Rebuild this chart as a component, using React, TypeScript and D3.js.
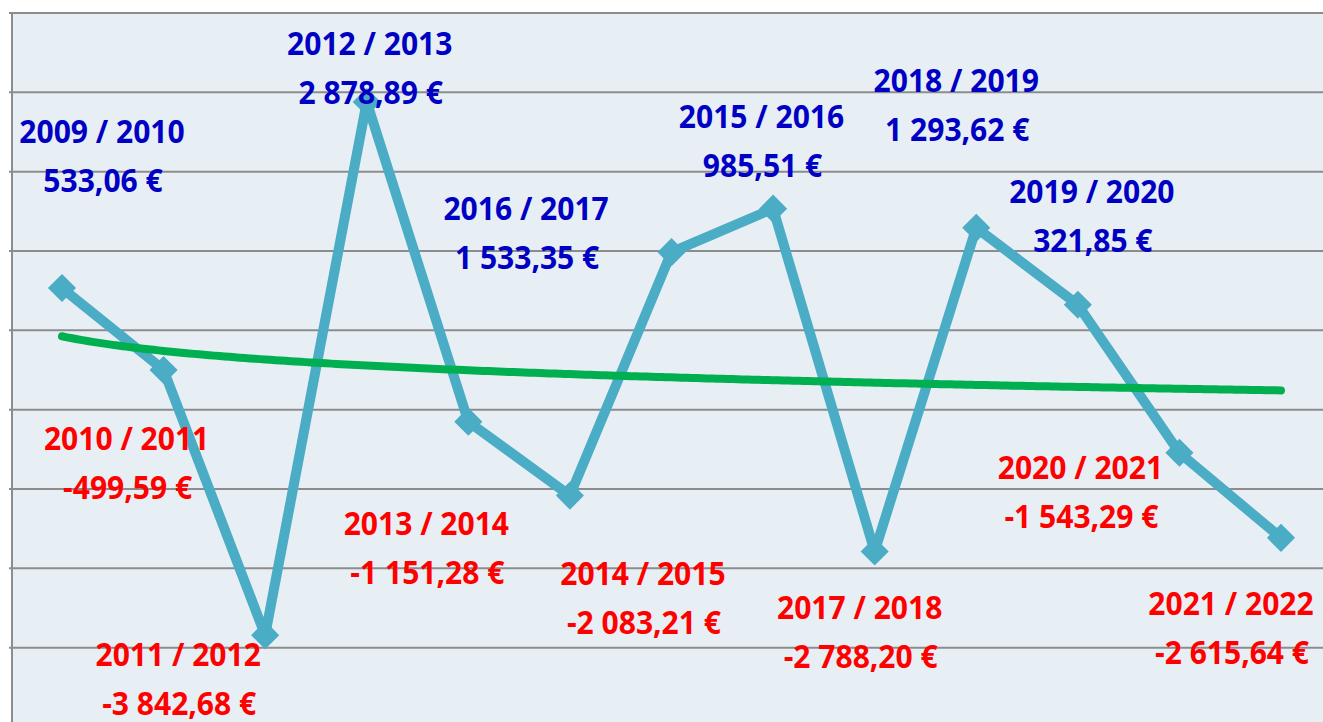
import React from 'react';
import * as d3 from 'd3';

const seasons = [
  '2009 / 2010', '2010 / 2011', '2011 / 2012', '2012 / 2013', '2013 / 2014',
  '2014 / 2015', '2015 / 2016', '2016 / 2017', '2017 / 2018', '2018 / 2019',
  '2019 / 2020', '2020 / 2021', '2021 / 2022',
];
const balances = [
  533.06, -499.59, -3842.68, 2878.89, -1151.28,
  -2083.21, 985.51, 1533.35, -2788.2, 1293.62,
  321.85, -1543.29, -2615.64,
];
const yTicks = [-5000, -4000, -3000, -2000, -1000, 0, 1000, 2000, 3000, 4000];

// label placement (layout only): offset of label centre / first baseline from the point
const labelDx = [40, -37, -87, 3, -42, 73, 90, -247, -15, -20, 14, -99, -50];
const labelDy = [-145, 80, 31, -47, 113, 89, -124, 11, 67, -136, -102, 26, 77];

const W = 1323;
const H = 722;

const fr = d3.formatLocale({
  decimal: ',',
  thousands: ' ',
  grouping: [3],
  currency: ['', ' €'],
  minus: '-',
});
const fmt = fr.format('$,.2f');

export default function App() {
  const x = d3.scalePoint<string>().domain(seasons).range([62, 1281]);
  const y = d3.scaleLinear().domain([-5000, 4000]).range([727, 13]);
  const plotLeft = 12;
  const plotTop = y(4000);

  const pts: [number, number][] = seasons.map((s, i) => [x(s) as number, y(balances[i])]);
  const line = d3.line();

  // logarithmic trend line (least squares on ln(i+1))
  const L = balances.map((_, i) => Math.log(i + 1));
  const mL = d3.mean(L) as number;
  const mV = d3.mean(balances) as number;
  const b =
    d3.sum(L.map((l, i) => (l - mL) * (balances[i] - mV))) /
    d3.sum(L.map((l) => (l - mL) ** 2));
  const a = mV - b * mL;
  const x0 = x(seasons[0]) as number;
  const step = x.step();
  const trend: [number, number][] = d3
    .range(0, seasons.length - 1 + 1e-9, 0.05)
    .map((t) => [x0 + t * step, y(a + b * Math.log(t + 1))]);

  const diamond = d3.symbol(d3.symbolSquare, 320)();

  return (
    <div style={{ position: 'fixed', left: 0, top: 0, width: W, height: H, background: '#fff' }}>
      <svg width={W} height={H} style={{ display: 'block' }}>
        <rect x={plotLeft} y={plotTop} width={W - plotLeft} height={H - plotTop} fill="#e8eff4" />
        {yTicks.map((t) => (
          <line
            key={t}
            x1={plotLeft - 3}
            x2={W}
            y1={y(t)}
            y2={y(t)}
            stroke="#8c8c8c"
            strokeWidth={2}
          />
        ))}
        <line x1={plotLeft} x2={plotLeft} y1={plotTop} y2={H} stroke="#8c8c8c" strokeWidth={2} />

        <path
          d={line(pts) as string}
          fill="none"
          stroke="#4bacc6"
          strokeWidth={10}
          strokeLinejoin="round"
        />
        {pts.map(([px, py], i) => (
          <path
            key={i}
            d={diamond as string}
            transform={`translate(${px},${py}) rotate(45)`}
            fill="#4bacc6"
            stroke="#4bacc6"
            strokeWidth={2}
          />
        ))}
        <path
          d={line(trend) as string}
          fill="none"
          stroke="#00b050"
          strokeWidth={8}
          strokeLinecap="round"
          strokeLinejoin="round"
        />

        {pts.map(([px, py], i) => {
          const cx = px + labelDx[i];
          const by = py + labelDy[i];
          const color = balances[i] >= 0 ? '#0000c4' : '#ff0000';
          return (
            <g
              key={`l${i}`}
              fill={color}
              fontFamily="'Open Sans', sans-serif"
              fontWeight={700}
              fontSize={33}
              textAnchor="middle"
            >
              <text transform={`translate(${cx},${by}) scale(0.91,1)`}>{seasons[i]}</text>
              <text transform={`translate(${cx + 1},${by + 49}) scale(0.91,1)`}>{fmt(balances[i])}</text>
            </g>
          );
        })}
      </svg>
    </div>
  );
}
